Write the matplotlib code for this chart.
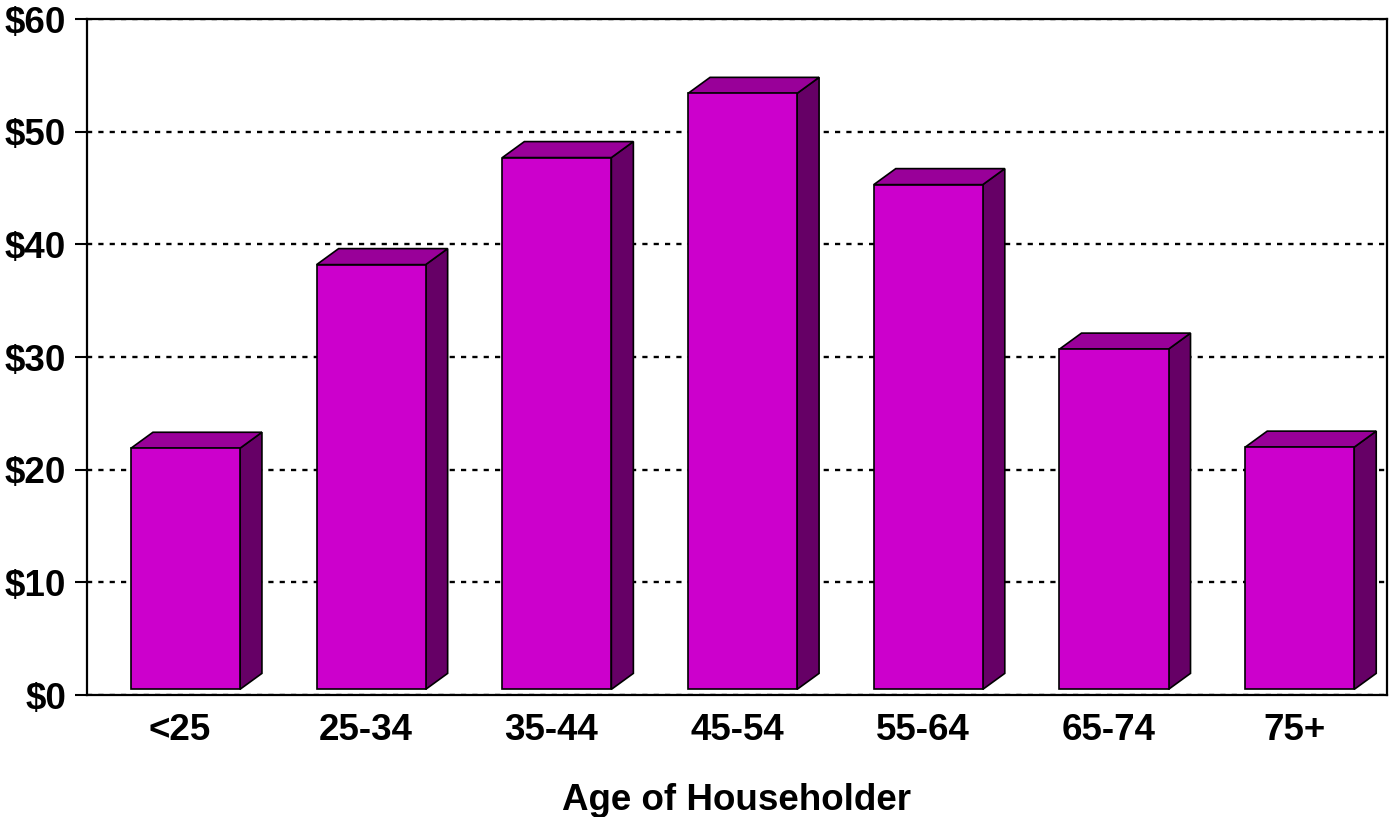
import matplotlib
matplotlib.use("Agg")
import matplotlib.pyplot as plt
from matplotlib.patches import Polygon, Rectangle
import numpy as np

categories = ["<25", "25-34", "35-44", "45-54", "55-64", "65-74", "75+"]
values = [21.9, 38.2, 47.7, 53.4, 45.3, 30.7, 22.0]
yticks = [0, 10, 20, 30, 40, 50, 60]
ytick_labels = ["$0", "$10", "$20", "$30", "$40", "$50", "$60"]
xlabel = "Age of Householder"

FRONT = "#CC00CC"
TOP = "#990099"
SIDE = "#660066"
BAR_W = 0.587
BAR_OFF = 0.03
FLOOR = 0.5
DEPTH_PX = (22, 16)
FS = 26.5

plt.rcParams['font.family'] = ['Liberation Sans', 'DejaVu Sans']
W, H = 1391, 817
fig = plt.figure(figsize=(W / 100, H / 100), dpi=100)
ax = fig.add_axes([87 / W, 1 - 695 / H, 1300 / W, 676 / H])
ax.set_xlim(-0.5, len(categories) - 0.5)
ax.set_ylim(0, 60)

ax.set_yticks(yticks)
ax.set_yticklabels(ytick_labels, fontsize=FS, fontweight='bold')
ax.yaxis.grid(True, color='black', linestyle=(0, (2.2, 2.6)), linewidth=1.7)
ax.set_axisbelow(True)
ax.tick_params(axis='y', length=9, width=1.5, pad=6)
ax.set_xticks(range(len(categories)))
ax.set_xticklabels(categories, fontsize=FS, fontweight='bold')
ax.tick_params(axis='x', length=0, pad=13)
for s in ax.spines.values():
    s.set_linewidth(1.6)
ax.set_xlabel(xlabel, fontsize=FS, fontweight='bold', va='center')
ax.xaxis.set_label_coords(0.5, -(800 - 695) / 676)

fig.canvas.draw()
inv = ax.transData.inverted()
o = ax.transData.transform((0, 0))
d = inv.transform((o[0] + DEPTH_PX[0], o[1] + DEPTH_PX[1]))
ddx, ddy = d[0], d[1]

for i, v in enumerate(values):
    x0 = i + BAR_OFF - BAR_W / 2
    x1 = x0 + BAR_W
    ax.add_patch(Polygon([(x1, FLOOR), (x1 + ddx, FLOOR + ddy), (x1 + ddx, v + ddy), (x1, v)],
                         closed=True, facecolor=SIDE, edgecolor='black', linewidth=1.2, zorder=3))
    ax.add_patch(Polygon([(x0, v), (x1, v), (x1 + ddx, v + ddy), (x0 + ddx, v + ddy)],
                         closed=True, facecolor=TOP, edgecolor='black', linewidth=1.2, zorder=3))
    ax.add_patch(Rectangle((x0, FLOOR), BAR_W, v - FLOOR, facecolor=FRONT,
                           edgecolor='black', linewidth=1.2, zorder=4))

fig.savefig("out.png", dpi=100)
